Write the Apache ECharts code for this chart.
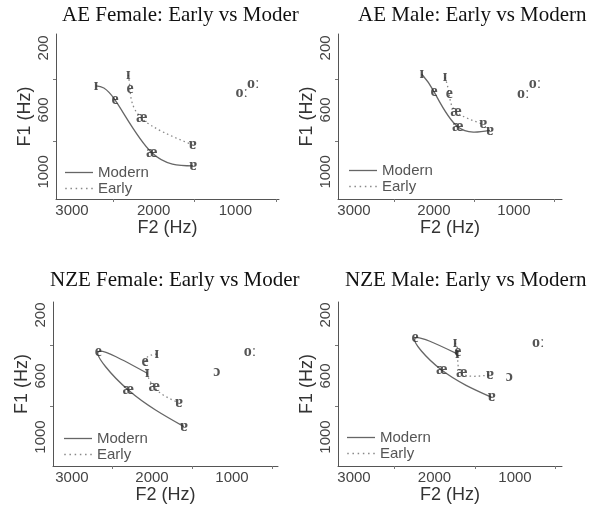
<!DOCTYPE html>
<html lang="en">
<head>
    <meta charset="utf-8">
    <title>Early vs Modern vowels</title>
    <script src="https://cdn.jsdelivr.net/npm/echarts@6/dist/echarts.min.js"></script>
    <style>
        html, body { margin: 0; padding: 0; background: #fff; }
        #chart { width: 591px; height: 505px; }
    </style>
</head>
<body>
<div id="chart"></div>
<script>
    // vowel order of the two trajectories in every panel
    var vowels = ['ɪ', 'e', 'æ', 'ɐ'];

    // AE Female
    var aeFemModernF2 = [2706, 2474, 2025, 1515];
    var aeFemModernF1 = [445, 535, 875, 961];
    var aeFemEarlyF2 = [2311, 2290, 2147, 1523];
    var aeFemEarlyF1 = [374, 466, 654, 826];
    var aeFemBackLabels = ['oː', 'oː'];
    var aeFemBackF2 = [923, 781];
    var aeFemBackF1 = [488, 432];

    // AE Male
    var aeMaleModernF2 = [2154, 2000, 1704, 1300];
    var aeMaleModernF1 = [368, 482, 708, 732];
    var aeMaleEarlyF2 = [1862, 1809, 1725, 1384];
    var aeMaleEarlyF1 = [389, 499, 611, 693];
    var aeMaleBackLabels = ['oː', 'oː'];
    var aeMaleBackF2 = [884, 737];
    var aeMaleBackF1 = [497, 432];

    // NZE Female
    var nzeFemModernF2 = [2059, 2671, 2296, 1600];
    var nzeFemModernF1 = [582, 441, 692, 932];
    var nzeFemEarlyF2 = [1941, 2087, 1971, 1663];
    var nzeFemEarlyF1 = [456, 506, 674, 775];
    var nzeFemBackLabels = ['ɔ', 'oː'];
    var nzeFemBackF2 = [1191, 775];
    var nzeFemBackF1 = [572, 441];

    // NZE Male
    var nzeMaleModernF2 = [1717, 2242, 1911, 1289];
    var nzeMaleModernF1 = [455, 353, 561, 740];
    var nzeMaleEarlyF2 = [1745, 1710, 1662, 1311];
    var nzeMaleEarlyF1 = [383, 445, 582, 593];
    var nzeMaleBackLabels = ['ɔ', 'oː'];
    var nzeMaleBackF2 = [1071, 711];
    var nzeMaleBackF1 = [605, 386];

    // tick labels / unlabelled ticks
    var f2Labels = [3000, 2000, 1000];
    var f2Ticks = [2500, 1500, 500];
    var f1Labels = [200, 600, 1000];
    var f1Ticks = [400, 800];

    var panels = [
        {
            title: 'AE Female: Early vs Modern', titleLeft: 62, titleTop: 5, titleWidth: 240,
            grid: {left: 56, top: 34, width: 223, height: 165}, xMin: 466, xMax: 3196, yMin: 110, yMax: 1175,
            legend: {left: 65, top: 165},
            modern: [aeFemModernF2, aeFemModernF1], early: [aeFemEarlyF2, aeFemEarlyF1],
            back: [aeFemBackLabels, aeFemBackF2, aeFemBackF1]
        },
        {
            title: 'AE Male: Early vs Modern', titleLeft: 358, titleTop: 5, titleWidth: 300,
            grid: {left: 338, top: 34, width: 224, height: 165}, xMin: 400, xMax: 3200, yMin: 110, yMax: 1175,
            legend: {left: 349, top: 163},
            modern: [aeMaleModernF2, aeMaleModernF1], early: [aeMaleEarlyF2, aeMaleEarlyF1],
            back: [aeMaleBackLabels, aeMaleBackF2, aeMaleBackF1]
        },
        {
            title: 'NZE Female: Early vs Modern', titleLeft: 50, titleTop: 270, titleWidth: 252,
            grid: {left: 53, top: 302, width: 225, height: 164}, xMin: 425, xMax: 3237, yMin: 115, yMax: 1190,
            legend: {left: 64, top: 431},
            modern: [nzeFemModernF2, nzeFemModernF1], early: [nzeFemEarlyF2, nzeFemEarlyF1],
            back: [nzeFemBackLabels, nzeFemBackF2, nzeFemBackF1]
        },
        {
            title: 'NZE Male: Early vs Modern', titleLeft: 345, titleTop: 270, titleWidth: 300,
            grid: {left: 338, top: 302, width: 224, height: 164}, xMin: 416, xMax: 3199, yMin: 115, yMax: 1190,
            legend: {left: 347, top: 430},
            modern: [nzeMaleModernF2, nzeMaleModernF1], early: [nzeMaleEarlyF2, nzeMaleEarlyF1],
            back: [nzeMaleBackLabels, nzeMaleBackF2, nzeMaleBackF1]
        }
    ];

    function pairs(f2, f1) {
        return f2.map(function (v, i) { return [v, f1[i]]; });
    }

    function labelItems(names, f2, f1) {
        return names.map(function (n, i) { return {name: n, value: [f2[i], f1[i]]}; });
    }

    function plain(v) {
        return String(v);
    }

    // natural parametric cubic spline through pixel points, as an svg path
    function splinePath(pts) {
        var n = pts.length, d = [[], []], i;
        for (var k = 0; k < 2; k++) {
            var a = [], b = [], c = [], r = [];
            for (i = 0; i < n; i++) {
                if (i === 0) {
                    a[i] = 0; b[i] = 2; c[i] = 1; r[i] = 3 * (pts[1][k] - pts[0][k]);
                } else if (i === n - 1) {
                    a[i] = 1; b[i] = 2; c[i] = 0; r[i] = 3 * (pts[i][k] - pts[i - 1][k]);
                } else {
                    a[i] = 1; b[i] = 4; c[i] = 1; r[i] = 3 * (pts[i + 1][k] - pts[i - 1][k]);
                }
            }
            for (i = 1; i < n; i++) {
                var m = a[i] / b[i - 1];
                b[i] -= m * c[i - 1];
                r[i] -= m * r[i - 1];
            }
            d[k][n - 1] = r[n - 1] / b[n - 1];
            for (i = n - 2; i >= 0; i--) {
                d[k][i] = (r[i] - c[i] * d[k][i + 1]) / b[i];
            }
        }
        var s = 'M' + pts[0][0] + ' ' + pts[0][1];
        for (i = 0; i < n - 1; i++) {
            s += ' C' + (pts[i][0] + d[0][i] / 3) + ' ' + (pts[i][1] + d[1][i] / 3) + ' ' +
                (pts[i + 1][0] - d[0][i + 1] / 3) + ' ' + (pts[i + 1][1] - d[1][i + 1] / 3) + ' ' +
                pts[i + 1][0] + ' ' + pts[i + 1][1];
        }
        return s;
    }

    function curveSeries(name, idx, data, color, dash) {
        return {
            name: name, type: 'custom', xAxisIndex: idx, yAxisIndex: idx,
            data: data, encode: {x: 0, y: 1}, silent: true,
            itemStyle: {color: color},
            renderItem: function (params, api) {
                if (params.dataIndex !== 0) return null;
                var pts = data.map(function (d) { return api.coord(d); });
                return {
                    type: 'path',
                    shape: {pathData: splinePath(pts)},
                    style: {fill: 'none', stroke: color, lineWidth: 1.3, lineDash: dash}
                };
            }
        };
    }

    var vowelLabel = {
        show: true,
        position: 'inside',
        formatter: '{b}',
        fontFamily: 'Liberation Serif',
        fontSize: 16,
        fontWeight: 'bold',
        color: '#2a2a2a'
    };

    var option = {
        animation: false,
        backgroundColor: '#fff',
        title: [], grid: [], xAxis: [], yAxis: [], legend: [], series: []
    };

    panels.forEach(function (p, i) {
        option.title.push({
            text: p.title,
            left: p.titleLeft,
            top: p.titleTop,
            padding: 0,
            textStyle: {
                fontFamily: 'Liberation Serif', fontSize: 21, fontWeight: 'normal', color: '#111',
                width: p.titleWidth, overflow: 'truncate', ellipsis: ''
            }
        });
        option.grid.push(p.grid);
        option.xAxis.push({
            type: 'value', gridIndex: i, inverse: true, min: p.xMin, max: p.xMax,
            name: 'F2 (Hz)', nameLocation: 'middle', nameGap: 19,
            nameTextStyle: {fontFamily: 'Liberation Sans', fontSize: 18, color: '#333'},
            splitLine: {show: false},
            axisLine: {show: true, onZero: false, lineStyle: {color: '#555', width: 1}},
            axisTick: {show: true, customValues: f2Ticks, length: 3, lineStyle: {color: '#777'}},
            axisLabel: {customValues: f2Labels, formatter: plain, margin: 4, fontFamily: 'Liberation Sans', fontSize: 15, color: '#444'}
        });
        option.yAxis.push({
            type: 'value', gridIndex: i, inverse: true, min: p.yMin, max: p.yMax,
            name: 'F1 (Hz)', nameLocation: 'middle', nameGap: 22, nameRotate: 90,
            nameTextStyle: {fontFamily: 'Liberation Sans', fontSize: 18, color: '#333'},
            splitLine: {show: false},
            axisLine: {show: true, onZero: false, lineStyle: {color: '#555', width: 1}},
            axisTick: {show: true, customValues: f1Ticks, length: 3, lineStyle: {color: '#777'}},
            axisLabel: {customValues: f1Labels, formatter: plain, rotate: 90, margin: 5, fontFamily: 'Liberation Sans', fontSize: 15, color: '#444'}
        });
        option.legend.push({
            data: [
                {name: 'Modern', icon: 'path://M0,0H280V13H0Z'},
                {name: 'Early', icon: 'path://M0,0h15v13h-15z M52,0h15v13h-15z M104,0h15v13h-15z M156,0h15v13h-15z M208,0h15v13h-15z M260,0h15v13h-15z'}
            ],
            orient: 'vertical',
            left: p.legend.left,
            top: p.legend.top,
            padding: 0,
            itemWidth: 28,
            itemHeight: 1.3,
            itemGap: 1,
            selectedMode: false,
            textStyle: {fontFamily: 'Liberation Sans', fontSize: 15, lineHeight: 15, color: '#555'}
        });
        option.series.push(curveSeries('Modern', i, pairs(p.modern[0], p.modern[1]), '#666', null));
        option.series.push(curveSeries('Early', i, pairs(p.early[0], p.early[1]), '#888', [1.5, 3]));
        option.series.push({
            name: 'vowels', type: 'scatter', xAxisIndex: i, yAxisIndex: i,
            symbolSize: 1, itemStyle: {color: 'rgba(0,0,0,0)'},
            label: vowelLabel,
            data: labelItems(vowels, p.modern[0], p.modern[1])
                .concat(labelItems(vowels, p.early[0], p.early[1]))
                .concat(labelItems(p.back[0], p.back[1], p.back[2]))
        });
    });

    var myChart = echarts.init(document.getElementById('chart'));
    myChart.setOption(option);
</script>
</body>
</html>
